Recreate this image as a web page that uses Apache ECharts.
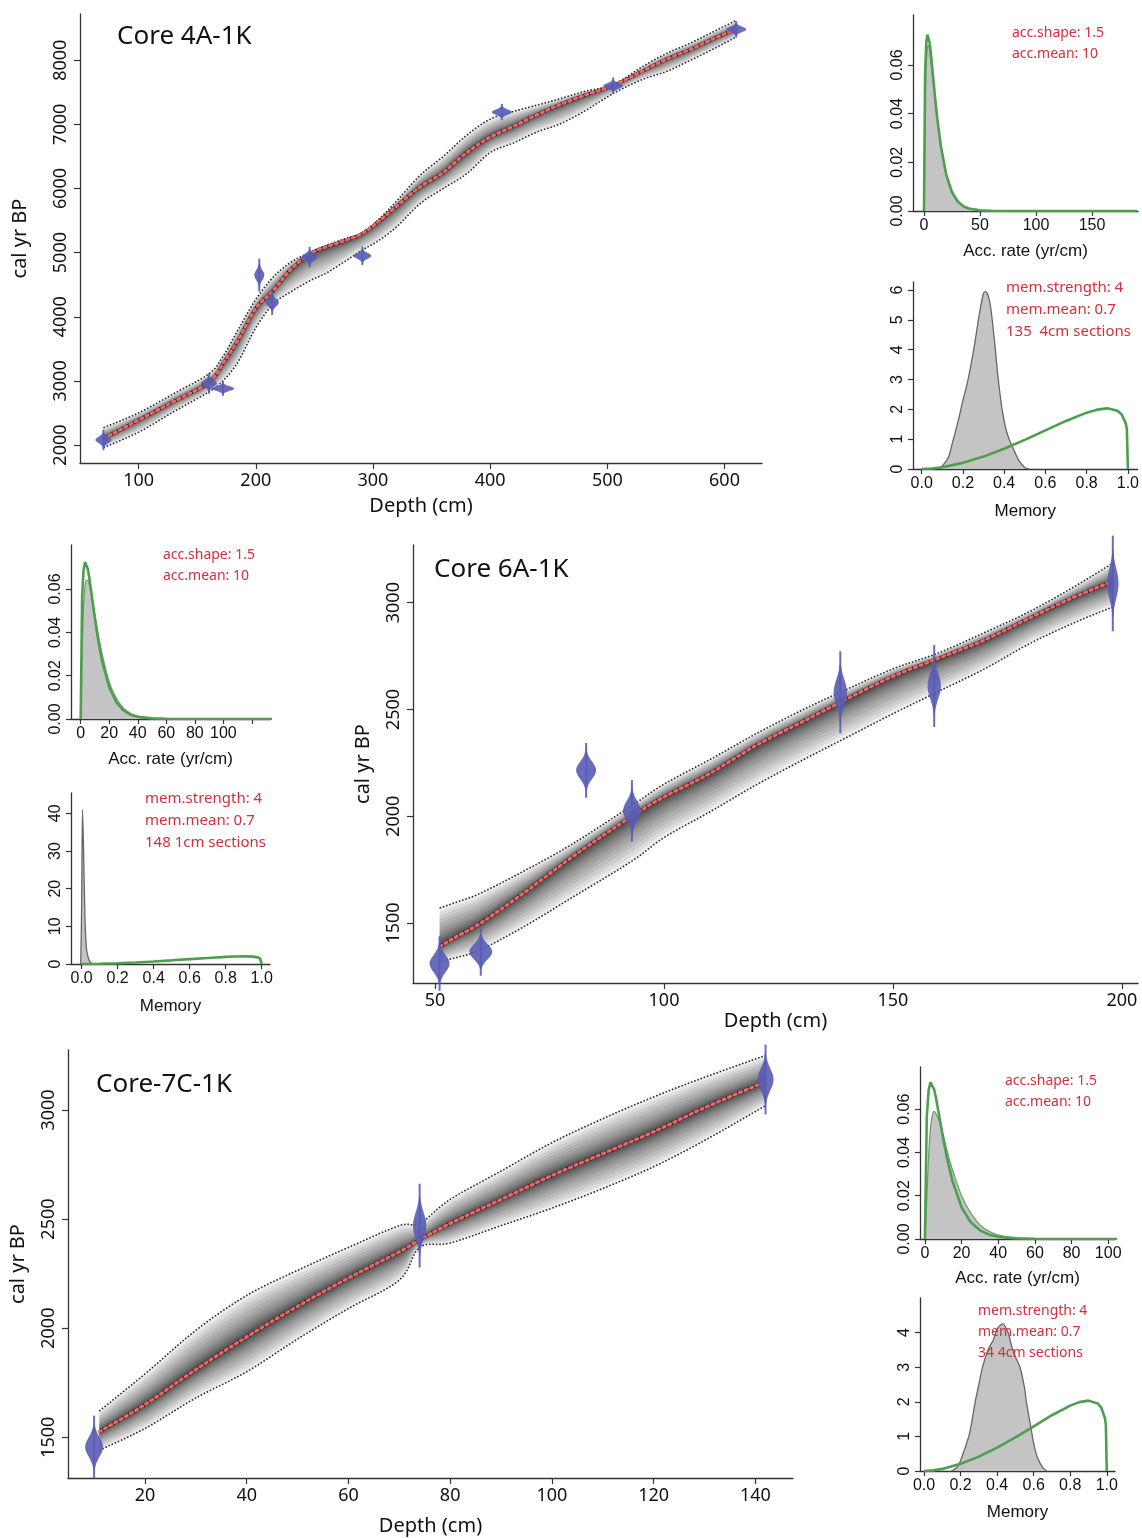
<!DOCTYPE html>
<html>
<head>
<meta charset="utf-8">
<title>Bacon age-depth models</title>
<script src="https://cdn.jsdelivr.net/npm/echarts@6.0.0/dist/echarts.min.js"></script>
<style>
	html, body { margin: 0; padding: 0; background: #fff; }
	#main { width: 1142px; height: 1538px; }
</style>
</head>
<body>
<div id="main"></div>
<script>
// Core 4A-1K : model range (95%) and mean, cal yr BP
var depth4A = [70, 100, 130, 160, 172, 185, 200, 215, 230, 246, 260, 275, 291, 305, 320, 340, 360, 380, 400, 420, 440, 460, 480, 505, 530, 550, 570, 590, 610];
var lower4A = [1960, 2200, 2520, 2830, 3000, 3300, 3830, 4200, 4390, 4560, 4680, 4850, 5040, 5190, 5400, 5760, 6000, 6230, 6560, 6710, 6880, 7010, 7200, 7480, 7700, 7820, 7990, 8170, 8360];
var mean4A = [2100, 2390, 2680, 2975, 3270, 3640, 4130, 4410, 4740, 4980, 5090, 5180, 5300, 5490, 5720, 6020, 6250, 6560, 6800, 6970, 7150, 7310, 7450, 7605, 7830, 8010, 8160, 8330, 8490];
var upper4A = [2270, 2500, 2800, 3110, 3380, 3800, 4270, 4620, 4850, 5000, 5110, 5210, 5310, 5520, 5800, 6200, 6500, 6830, 7080, 7200, 7300, 7400, 7510, 7620, 7900, 8100, 8260, 8440, 8620];
// calibrated dates
var date4ADepth = [70, 160, 172, 203, 214, 246, 291, 410, 505, 610];
var date4AAge = [2080, 2960, 2880, 4650, 4220, 4930, 4950, 7190, 7600, 8480];
var date4AErr = [50, 50, 35, 80, 60, 50, 45, 40, 40, 40];

// Core 6A-1K
var depth6A = [51, 55, 60, 70, 80, 93, 100, 110, 120, 130, 140, 150, 160, 170, 180, 190, 198];
var lower6A = [1320, 1340, 1375, 1490, 1620, 1790, 1900, 2020, 2145, 2260, 2370, 2480, 2585, 2690, 2810, 2910, 2980];
var mean6A = [1390, 1440, 1500, 1650, 1810, 2000, 2090, 2200, 2330, 2440, 2550, 2655, 2740, 2825, 2930, 3030, 3100];
var upper6A = [1570, 1600, 1640, 1750, 1870, 2050, 2150, 2265, 2385, 2495, 2595, 2690, 2765, 2860, 2960, 3080, 3185];
var date6ADepth = [51, 60, 83, 93, 138.5, 159, 198];
var date6AAge = [1310, 1365, 2215, 2025, 2580, 2610, 3090];
var date6AErr = [40, 35, 40, 45, 60, 60, 70];

// Core-7C-1K
var depth7C = [11, 20, 30, 40, 50, 60, 70, 74, 80, 90, 100, 110, 120, 130, 142];
var lower7C = [1440, 1540, 1680, 1800, 1950, 2090, 2220, 2370, 2390, 2470, 2550, 2640, 2740, 2860, 3020];
var mean7C = [1525, 1650, 1810, 1960, 2100, 2230, 2350, 2405, 2480, 2590, 2700, 2800, 2900, 3010, 3130];
var upper7C = [1620, 1790, 1990, 2150, 2265, 2370, 2470, 2480, 2590, 2720, 2850, 2960, 3060, 3150, 3250];
var date7CDepth = [10, 74, 142];
var date7CAge = [1455, 2470, 3140];
var date7CErr = [45, 60, 50];

// accumulation rate: prior (green) and posteriors (grey)
var accX = [0, 1, 2, 3, 4, 5, 6, 8, 10, 12, 15, 20, 25, 30, 35, 40, 50, 60, 80, 100, 120, 150, 190];
var accPrior = [0, 0.0564, 0.0687, 0.0724, 0.0719, 0.0692, 0.0653, 0.0558, 0.0462, 0.0375, 0.0268, 0.0146, 0.0077, 0.0040, 0.0020, 0.0010, 0.0003, 0.0001, 0, 0, 0, 0, 0];
var accPost4A = [0, 0.040, 0.060, 0.067, 0.068, 0.066, 0.062, 0.054, 0.045, 0.037, 0.027, 0.015, 0.008, 0.004, 0.002, 0.001, 0.0002, 0, 0, 0, 0, 0, 0];
var accPost6A = [0, 0.030, 0.052, 0.061, 0.064, 0.064, 0.062, 0.056, 0.048, 0.040, 0.030, 0.017, 0.0095, 0.005, 0.0025, 0.0012, 0.0003, 0, 0, 0, 0, 0, 0];
var accPost7C = [0, 0.018, 0.038, 0.051, 0.057, 0.059, 0.058, 0.054, 0.048, 0.041, 0.032, 0.020, 0.012, 0.0065, 0.0035, 0.0018, 0.0004, 0.0001, 0, 0, 0, 0, 0];

// memory: prior (green) and posteriors (grey)
var memX = [0, 0.05, 0.1, 0.2, 0.3, 0.4, 0.5, 0.6, 0.7, 0.8, 0.85, 0.9, 0.95, 0.97, 0.99, 0.995, 1];
var memPrior = [0, 0.018, 0.061, 0.206, 0.416, 0.677, 0.975, 1.293, 1.612, 1.890, 1.990, 2.034, 1.952, 1.83, 1.524, 1.339, 0];
var memPost4AX = [0.08, 0.1, 0.13, 0.15, 0.18, 0.2, 0.225, 0.25, 0.28, 0.3, 0.31, 0.33, 0.35, 0.37, 0.39, 0.41, 0.43, 0.45, 0.47, 0.5, 0.52];
var memPost4A = [0, 0.1, 0.4, 0.9, 1.7, 2.3, 3.0, 3.9, 5.2, 5.9, 5.95, 5.6, 4.5, 3.1, 2.0, 1.3, 0.9, 0.6, 0.3, 0.05, 0];
var memPost6AX = [-0.005, 0, 0.005, 0.01, 0.015, 0.02, 0.025, 0.03, 0.04, 0.05, 0.06];
var memPost6A = [0, 15, 41, 32, 20, 10, 5, 3, 1.2, 0.4, 0];
var memPost7CX = [0.15, 0.18, 0.2, 0.22, 0.25, 0.28, 0.3, 0.32, 0.35, 0.38, 0.4, 0.43, 0.46, 0.48, 0.5, 0.525, 0.55, 0.56, 0.58, 0.6, 0.62, 0.65, 0.67];
var memPost7C = [0, 0.1, 0.3, 0.6, 1.1, 2.0, 2.5, 3.0, 3.5, 3.8, 4.1, 4.25, 4.0, 3.6, 3.3, 3.0, 2.4, 2.0, 1.4, 0.8, 0.4, 0.1, 0];

// tick values
var ticks4AX = [100, 200, 300, 400, 500, 600];
var ticks4AY = [2000, 3000, 4000, 5000, 6000, 7000, 8000];
var ticks6AX = [50, 100, 150, 200];
var ticks6AY = [1500, 2000, 2500, 3000];
var ticks7CX = [20, 40, 60, 80, 100, 120, 140];
var ticks7CY = [1500, 2000, 2500, 3000];
var ticksAcc = [0, 0.02, 0.04, 0.06];

var BAND_LEVELS = [1, 0.9, 0.8, 0.7, 0.6, 0.5, 0.42, 0.35, 0.29, 0.24, 0.2, 0.16, 0.13, 0.1, 0.07, 0.05, 0.03];
var DATE_COLOR = 'rgba(88,92,180,0.9)';
var DATE_AREA = 400;
var GREEN = '#4f9e4f';
var RED_TEXT = '#d3303c';
var MAIN_FONT = 'Noto Sans';
var SMALL_FONT = 'Liberation Sans';

function pairs(xs, ys) {
	return xs.map(function(x, i) { return [x, ys[i]]; });
}

// catmull-rom through pixel points, so band edges and lines stay in step
function spline(pts) {
	var out = [];
	var n = pts.length;
	for (var i = 0; i < n - 1; i++) {
		var p0 = pts[Math.max(i - 1, 0)], p1 = pts[i], p2 = pts[i + 1], p3 = pts[Math.min(i + 2, n - 1)];
		for (var s = 0; s < 8; s++) {
			var t = s / 8, t2 = t * t, t3 = t2 * t;
			var q = [0, 1].map(function(k) {
				return 0.5 * (2 * p1[k] + (-p0[k] + p2[k]) * t + (2 * p0[k] - 5 * p1[k] + 4 * p2[k] - p3[k]) * t2 + (-p0[k] + 3 * p1[k] - 3 * p2[k] + p3[k]) * t3);
			});
			out.push(q);
		}
	}
	out.push(pts[n - 1]);
	return out;
}

function axis(grid, min, max, ticks, o) {
	return {
		type: 'value', gridIndex: grid, min: min, max: max,
		splitLine: { show: false },
		axisLine: { show: true, onZero: false, lineStyle: { color: '#333', width: 1.3 } },
		axisTick: { show: true, length: o.tick || 6, customValues: ticks, lineStyle: { color: '#333', width: 1.2 } },
		axisLabel: {
			customValues: o.labels || ticks, rotate: o.rotate || 0, margin: o.margin || 7,
			color: '#111', fontSize: o.size, fontFamily: o.font, formatter: o.fmt
		},
		name: o.name || '', nameLocation: 'middle', nameGap: o.gap || 30,
		nameTextStyle: { fontSize: o.nameSize, fontFamily: o.font, color: '#111' }
	};
}

// age-depth model: grey band, 95% range dotted, mean red dotted
function modelSeries(gi, depth, lower, mean, upper) {
	return {
		type: 'custom', xAxisIndex: gi, yAxisIndex: gi, z: 2, silent: true, clip: true,
		data: [[depth[0], mean[0]]],
		renderItem: function(params, api) {
			var kids = [];
			BAND_LEVELS.forEach(function(f) {
				var top = [], bot = [];
				for (var i = 0; i < depth.length; i++) {
					top.push(api.coord([depth[i], mean[i] + f * (upper[i] - mean[i])]));
					bot.push(api.coord([depth[i], mean[i] - f * (mean[i] - lower[i])]));
				}
				var pts = spline(top).concat(spline(bot).reverse());
				kids.push({ type: 'polygon', shape: { points: pts }, style: { fill: 'rgba(0,0,0,0.072)' } });
			});
			var line = function(ys, style) {
				var p = depth.map(function(d, i) { return api.coord([d, ys[i]]); });
				return { type: 'polyline', shape: { points: spline(p) }, style: style };
			};
			kids.push(line(lower, { stroke: '#2a2a2a', lineWidth: 1.6, lineDash: [1.6, 1.8], fill: null }));
			kids.push(line(upper, { stroke: '#2a2a2a', lineWidth: 1.6, lineDash: [1.6, 1.8], fill: null }));
			kids.push(line(mean, { stroke: '#3d1214', lineWidth: 3.2, fill: null }));
			kids.push(line(mean, { stroke: '#e86a6a', lineWidth: 3, lineDash: [2.5, 3.5], lineCap: 'round', fill: null }));
			return { type: 'group', children: kids };
		}
	};
}

function dateSeries(gi, depths, ages, errs) {
	return {
		type: 'custom', xAxisIndex: gi, yAxisIndex: gi, z: 6, silent: true,
		data: depths.map(function(d, i) { return [d, ages[i], errs[i]]; }),
		renderItem: function(params, api) {
			var d = api.value(0), a = api.value(1), e = api.value(2);
			var w = DATE_AREA / e;
			var c = api.coord([d, a]);
			var right = [], left = [];
			for (var t = -2.3; t <= 2.31; t += 0.1) {
				var y = api.coord([d, a + t * e])[1];
				var h = w * Math.exp(-t * t / 2);
				right.push([c[0] + h, y]);
				left.unshift([c[0] - h, y]);
			}
			var top = api.coord([d, a + 3.2 * e]), bot = api.coord([d, a - 3.2 * e]);
			return { type: 'group', children: [
				{ type: 'line', shape: { x1: c[0], y1: top[1], x2: c[0], y2: bot[1] }, style: { stroke: DATE_COLOR, lineWidth: 2 } },
				{ type: 'polygon', shape: { points: right.concat(left) }, style: { fill: DATE_COLOR } }
			] };
		}
	};
}

function lineSeries(gi, xs, ys, style, z) {
	return {
		type: 'line', xAxisIndex: gi, yAxisIndex: gi, data: pairs(xs, ys),
		showSymbol: false, symbol: 'none', silent: true, clip: true, z: z || 3,
		lineStyle: style
	};
}

function greyArea(gi, xs, ys, edge) {
	return {
		type: 'line', xAxisIndex: gi, yAxisIndex: gi, data: pairs(xs, ys), smooth: 0.3,
		showSymbol: false, symbol: 'none', silent: true, clip: true, z: 2,
		lineStyle: { color: edge, width: 1.3 },
		areaStyle: { color: '#c4c4c4', opacity: 1 }
	};
}

function note(x, y, lines, size) {
	return lines.map(function(t, i) {
		return { type: 'text', left: x, top: y + i * (size + 7), z: 100, style: { text: t, fill: RED_TEXT, fontSize: size, fontFamily: MAIN_FONT } };
	});
}

function title(x, y, t) {
	return { type: 'text', left: x, top: y, z: 100, style: { text: t, fill: '#111', fontSize: 26, fontFamily: MAIN_FONT } };
}

var fmt2 = function(v) { return v.toFixed(2); };
var fmt1 = function(v) { return v.toFixed(1); };
var fmt0 = function(v) { return String(v); };

var grids = [
	{ left: 80, top: 14, width: 682, height: 449 },	// 0 core 4A
	{ left: 913, top: 15, width: 225, height: 196 },	// 1 acc 4A
	{ left: 913, top: 282, width: 225, height: 187 },	// 2 mem 4A
	{ left: 71, top: 545, width: 199, height: 174 },	// 3 acc 6A
	{ left: 71, top: 793, width: 199, height: 171 },	// 4 mem 6A
	{ left: 413, top: 545, width: 725, height: 438 },	// 5 core 6A
	{ left: 68, top: 1050, width: 725, height: 428 },	// 6 core 7C
	{ left: 920, top: 1067, width: 195, height: 172 },	// 7 acc 7C
	{ left: 920, top: 1298, width: 195, height: 173 }	// 8 mem 7C
];

function ext(base, extra) {
	var o = {};
	for (var k in base) o[k] = base[k];
	for (var j in extra) o[j] = extra[j];
	return o;
}
var mainX = { size: 18, font: MAIN_FONT, nameSize: 20, margin: 9, fmt: fmt0 };
var mainY = { size: 18, font: MAIN_FONT, nameSize: 20, margin: 10, rotate: 90, fmt: fmt0 };
var smallX = { size: 16, font: SMALL_FONT, nameSize: 17, margin: 7, tick: 5 };
var smallY = { size: 16, font: SMALL_FONT, nameSize: 17, margin: 7, tick: 5, rotate: 90 };

var xAxes = [
	axis(0, 50, 632, ticks4AX, ext(mainX, { name: 'Depth (cm)', gap: 33 })),
	axis(1, -9.8, 191, [0, 50, 100, 150], ext(smallX, { name: 'Acc. rate (yr/cm)', gap: 32, fmt: fmt0 })),
	axis(2, -0.042, 1.047, [0, 0.2, 0.4, 0.6, 0.8, 1], ext(smallX, { name: 'Memory', gap: 34, fmt: fmt1 })),
	axis(3, -6.8, 132.7, [0, 20, 40, 60, 80, 100, 120], ext(smallX, { labels: [0, 20, 40, 60, 80, 100], name: 'Acc. rate (yr/cm)', gap: 32, fmt: fmt0 })),
	axis(4, -0.059, 1.046, [0, 0.2, 0.4, 0.6, 0.8, 1], ext(smallX, { name: 'Memory', gap: 34, fmt: fmt1 })),
	axis(5, 45.2, 203.5, ticks6AX, ext(mainX, { name: 'Depth (cm)', gap: 28 })),
	axis(6, 4.87, 147.4, ticks7CX, ext(mainX, { name: 'Depth (cm)', gap: 38 })),
	axis(7, -2.7, 103.7, [0, 20, 40, 60, 80, 100], ext(smallX, { name: 'Acc. rate (yr/cm)', gap: 31, fmt: fmt0 })),
	axis(8, -0.022, 1.045, [0, 0.2, 0.4, 0.6, 0.8, 1], ext(smallX, { name: 'Memory', gap: 33, fmt: fmt1 }))
];

var yAxes = [
	axis(0, 1720, 8720, ticks4AY, ext(mainY, { name: 'cal yr BP', gap: 50 })),
	axis(1, 0, 0.0805, ticksAcc, ext(smallY, { fmt: fmt2 })),
	axis(2, 0, 6.27, [0, 1, 2, 3, 4, 5, 6], ext(smallY, { fmt: fmt0 })),
	axis(3, 0, 0.0803, ticksAcc, ext(smallY, { fmt: fmt2 })),
	axis(4, 0, 45.4, [0, 10, 20, 30, 40], ext(smallY, { fmt: fmt0 })),
	axis(5, 1219, 3270, ticks6AY, ext(mainY, { name: 'cal yr BP', gap: 40 })),
	axis(6, 1313, 3275, ticks7CY, ext(mainY, { name: 'cal yr BP', gap: 40 })),
	axis(7, 0, 0.0795, ticksAcc, ext(smallY, { fmt: fmt2 })),
	axis(8, 0, 5.0, [0, 1, 2, 3, 4], ext(smallY, { fmt: fmt0 }))
];

var greenLine = { color: GREEN, width: 2.6 };
var series = [
	modelSeries(0, depth4A, lower4A, mean4A, upper4A),
	dateSeries(0, date4ADepth, date4AAge, date4AErr),
	modelSeries(5, depth6A, lower6A, mean6A, upper6A),
	dateSeries(5, date6ADepth, date6AAge, date6AErr),
	modelSeries(6, depth7C, lower7C, mean7C, upper7C),
	dateSeries(6, date7CDepth, date7CAge, date7CErr),
	greyArea(1, accX, accPost4A, '#7a9f7a'),
	lineSeries(1, accX, accPrior, greenLine, 3),
	greyArea(2, memPost4AX, memPost4A, '#666'),
	lineSeries(2, memX, memPrior, greenLine, 3),
	greyArea(3, accX, accPost6A, '#6d9f6d'),
	lineSeries(3, accX, accPrior, greenLine, 3),
	greyArea(4, memPost6AX, memPost6A, '#666'),
	lineSeries(4, memX, memPrior, greenLine, 3),
	greyArea(7, accX, accPost7C, '#6d9f6d'),
	lineSeries(7, accX, accPrior, greenLine, 3),
	greyArea(8, memPost7CX, memPost7C, '#666'),
	lineSeries(8, memX, memPrior, greenLine, 3)
];

var graphics = [
	title(117, 24, 'Core 4A-1K'),
	title(434, 557, 'Core 6A-1K'),
	title(96, 1072, 'Core-7C-1K')
]
	.concat(note(1012, 26, ['acc.shape: 1.5', 'acc.mean: 10'], 14))
	.concat(note(1006, 280, ['mem.strength: 4', 'mem.mean: 0.7', '135  4cm sections'], 15))
	.concat(note(163, 548, ['acc.shape: 1.5', 'acc.mean: 10'], 14))
	.concat(note(145, 791, ['mem.strength: 4', 'mem.mean: 0.7', '148 1cm sections'], 15))
	.concat(note(1005, 1074, ['acc.shape: 1.5', 'acc.mean: 10'], 14))
	.concat(note(978, 1304, ['mem.strength: 4', 'mem.mean: 0.7', '34 4cm sections'], 14));

var myChart = echarts.init(document.getElementById('main'), null, { renderer: 'canvas' });
myChart.setOption({
	animation: false,
	backgroundColor: '#fff',
	grid: grids,
	xAxis: xAxes,
	yAxis: yAxes,
	series: series,
	graphic: graphics
});
</script>
</body>
</html>
